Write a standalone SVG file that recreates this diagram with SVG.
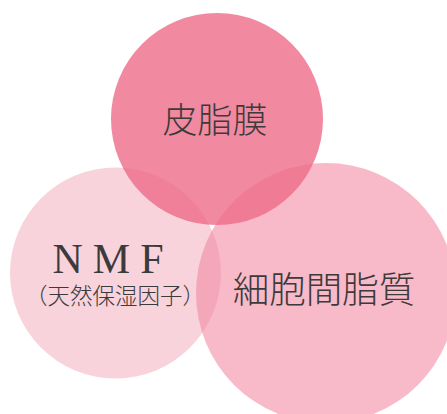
<svg xmlns="http://www.w3.org/2000/svg" width="447" height="414" viewBox="0 0 447 414">
<style>
.jp{font-family:"Noto Sans CJK JP","Noto Sans CJK SC",sans-serif;font-weight:300;fill:#3c3a3b;text-anchor:middle}
.lat{font-family:"Liberation Serif",serif;fill:#3c3a3b;text-anchor:middle}
</style>
<rect width="447" height="414" fill="#ffffff"/>
<g id="nmf">
<circle cx="115.5" cy="273" r="105.5" fill="#f8d3dc"/>
</g>
<g id="intercellular">
<circle cx="326" cy="293" r="130" fill="#f48aa3" fill-opacity="0.6"/>
</g>
<g id="sebum">
<circle cx="217" cy="119" r="106" fill="#ee6b88" fill-opacity="0.8"/>
<text class="jp" x="215" y="133" font-size="35">皮脂膜</text>
</g>
<g id="nmf-label">
<text class="lat" x="113" y="273" font-size="42" letter-spacing="10">NMF</text>
<text class="jp" x="115" y="304" font-size="22.5">（天然保湿因子）</text>
</g>
<g id="intercellular-label">
<text class="jp" x="324" y="303" font-size="36.5">細胞間脂質</text>
</g>
<g id="connectors"></g>
</svg>
